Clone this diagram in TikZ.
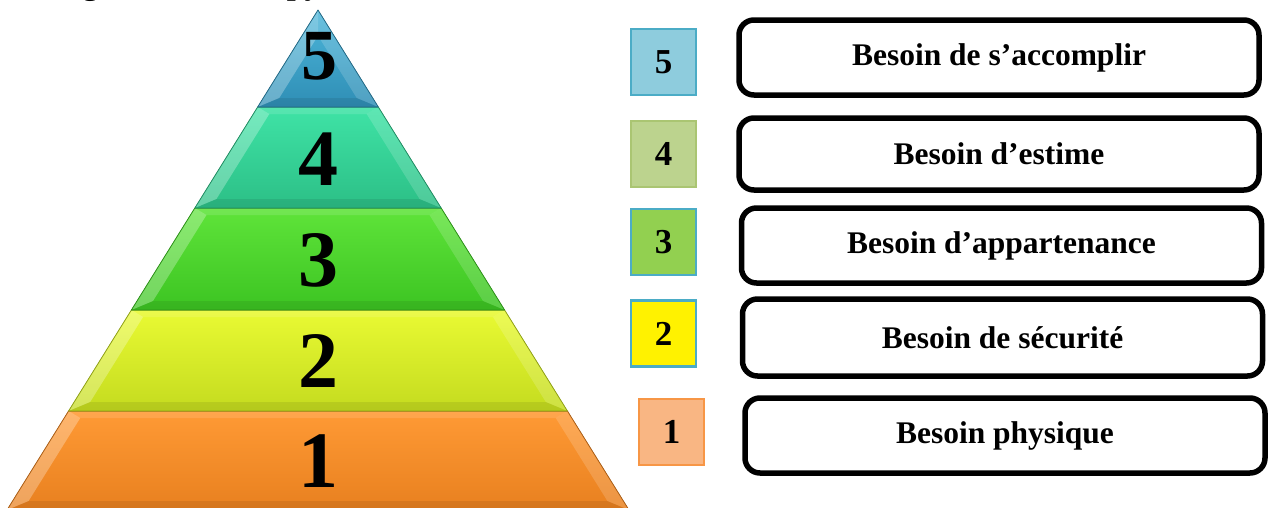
\documentclass[tikz,border=0pt]{standalone}
\usepackage{fontspec}
\setmainfont{Liberation Serif}
\definecolor{aqua}{HTML}{4BACC6}
\definecolor{aqualt}{HTML}{8ECCDD}
\definecolor{olive}{HTML}{9BBB59}
\definecolor{olivelt}{HTML}{BCD38E}
\definecolor{lgreen}{HTML}{92D050}
\definecolor{sqorange}{HTML}{F79646}
\definecolor{sqorangelt}{HTML}{F9B683}
\definecolor{b5t}{HTML}{4DB6DA}
\definecolor{b5b}{HTML}{2F8EB5}
\definecolor{b4t}{HTML}{3FE3A6}
\definecolor{b4b}{HTML}{2CBF86}
\definecolor{b3t}{HTML}{5FE43A}
\definecolor{b3b}{HTML}{3CC422}
\definecolor{b2t}{HTML}{E9FA33}
\definecolor{b2b}{HTML}{C4DB1F}
\definecolor{b1t}{HTML}{FF9A35}
\definecolor{b1b}{HTML}{E8801F}
\tikzset{
  pyrnum/.style={font=\bfseries\fontsize{80}{80}\selectfont, anchor=base, inner sep=0pt},
  sqbox/.style={minimum width=65pt, minimum height=66pt, line width=2.2pt,
                font=\bfseries\fontsize{35}{35}\selectfont, inner sep=0pt},
  needbox/.style={draw=black, line width=5.5pt, rounded corners=15pt, minimum width=520pt,
                  font=\bfseries\fontsize{31.5}{31.5}\selectfont, inner sep=0pt},
}
\newcommand\pyrband[4]{%
  \pgfmathsetmacro\xlt{318-0.622*(#1-10)}%
  \pgfmathsetmacro\xrt{318+0.622*(#1-10)}%
  \pgfmathsetmacro\xlb{318-0.622*(#2-10)}%
  \pgfmathsetmacro\xrb{318+0.622*(#2-10)}%
  \pgfmathsetmacro\yti{max(#1+7,36)}%
  \pgfmathsetmacro\ybi{#2-9}%
  \pgfmathsetmacro\xlti{min(318-0.622*(\yti-10)+16,318)}%
  \pgfmathsetmacro\xrti{max(318+0.622*(\yti-10)-16,318)}%
  \pgfmathsetmacro\xlbi{318-0.622*(\ybi-10)+16}%
  \pgfmathsetmacro\xrbi{318+0.622*(\ybi-10)-16}%
  \fill[top color=#3, bottom color=#4] (\xlt,#1) -- (\xrt,#1) -- (\xrb,#2) -- (\xlb,#2) -- cycle;
  \fill[white, opacity=0.12] (\xlt,#1) -- (\xrt,#1) -- (\xrti,\yti) -- (\xlti,\yti) -- cycle;
  \fill[white, opacity=0.28] (\xlt,#1) -- (\xlti,\yti) -- (\xlbi,\ybi) -- (\xlb,#2) -- cycle;
  \fill[white, opacity=0.16] (\xrt,#1) -- (\xrb,#2) -- (\xrbi,\ybi) -- (\xrti,\yti) -- cycle;
  \fill[black, opacity=0.08] (\xlb,#2) -- (\xlbi,\ybi) -- (\xrbi,\ybi) -- (\xrb,#2) -- cycle;
  \draw[#4!75!black, line width=0.8pt, line join=round] (\xlt,#1) -- (\xrt,#1) -- (\xrb,#2) -- (\xlb,#2) -- cycle;
}
\begin{document}
\begin{tikzpicture}[x=1pt, y=-1pt]
\useasboundingbox (0,0) rectangle (1270,507);
\begin{scope}
\clip (0,0) rectangle (1270,507);
% title, cut off by the top edge
\node[anchor=base west, font=\bfseries\fontsize{32}{32}\selectfont, inner sep=0pt] (title) at (54,-6)
  {Figure N° 1 : La pyramide des besoins selon Maslow};
% pyramid
\pyrband{411}{510}{b1t}{b1b}
\pyrband{310}{411}{b2t}{b2b}
\pyrband{208}{310}{b3t}{b3b}
\pyrband{107}{208}{b4t}{b4b}
\pyrband{10}{107}{b5t}{b5b}
\end{scope}
\node[pyrnum, font=\bfseries\fontsize{72}{72}\selectfont] (n5) at (319,79) {5};
\node[pyrnum] (n4) at (318,185) {4};
\node[pyrnum] (n3) at (318,286) {3};
\node[pyrnum] (n2) at (318,387) {2};
\node[pyrnum] (n1) at (318,487) {1};
% small squares
\node[sqbox, draw=aqua, top color=aqualt, middle color=aqua, bottom color=aqualt] (s5) at (663.5,62) {5};
\node[sqbox, draw=olive!85!white, top color=olivelt, middle color=olive, bottom color=olivelt] (s4) at (663.5,154) {4};
\node[sqbox, draw=aqua, fill=lgreen] (s3) at (663.5,242) {3};
\node[sqbox, draw=aqua, fill=yellow] (s2) at (663.5,333.5) {2};
\node[sqbox, draw=sqorange, top color=sqorangelt, middle color=sqorange, bottom color=sqorangelt] (s1) at (671.5,432) {1};
% need boxes
\node[needbox, minimum height=75pt] (b5) at (999,57.5) {Besoin de s’accomplir};
\node[needbox, minimum height=72pt] (b4) at (999,154) {Besoin d’estime};
\node[needbox, minimum height=75pt] (b3) at (1001.5,245.5) {Besoin d’appartenance};
\node[needbox, minimum height=77pt] (b2) at (1002.5,337.5) {Besoin de sécurité};
\node[needbox, minimum height=75pt] (b1) at (1005,435.5) {Besoin physique};
\end{tikzpicture}
\end{document}
